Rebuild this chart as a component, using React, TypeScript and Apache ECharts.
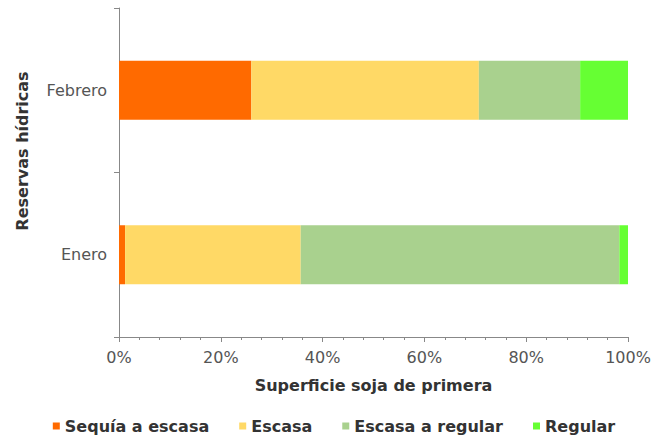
import React, { useEffect, useRef } from "react";
import * as echarts from "echarts";

const categories = ["Enero", "Febrero"];
const seriesNames = ["Sequía a escasa", "Escasa", "Escasa a regular", "Regular"];
const sequiaEscasa = [1.2, 26.0];
const escasa = [34.5, 44.7];
const escasaRegular = [62.6, 19.9];
const regular = [1.7, 9.4];
const xTicks = [0, 20, 40, 60, 80, 100];
const colors = ["#ff6a00", "#ffd966", "#a9d18e", "#66ff33"];

export default function App() {
  const ref = useRef<HTMLDivElement>(null);
  useEffect(() => {
    document.body.style.margin = "0";
    if (!ref.current) return;
    const chart = echarts.init(ref.current, null, { renderer: "svg" });
    const values = [sequiaEscasa, escasa, escasaRegular, regular];
    chart.setOption({
      animation: false,
      textStyle: { fontFamily: "DejaVu Sans" },
      grid: { left: 119, right: 40, top: 8, bottom: 101, containLabel: false },
      legend: {
        data: seriesNames,
        top: 413,
        left: "center",
        itemWidth: 7,
        itemHeight: 7,
        itemGap: 30,
        icon: "rect",
        textStyle: { fontFamily: "DejaVu Sans", fontWeight: "bold", fontSize: 16, color: "#333" },
      },
      xAxis: {
        type: "value",
        min: xTicks[0],
        max: xTicks[xTicks.length - 1],
        interval: 20,
        name: "Superficie soja de primera",
        nameLocation: "middle",
        nameGap: 40,
        nameTextStyle: { fontFamily: "DejaVu Sans", fontWeight: "bold", fontSize: 16, color: "#333" },
        axisLine: { show: true, lineStyle: { color: "#888", width: 1 } },
        axisTick: { show: true, length: 5, lineStyle: { color: "#888" } },
        minorTick: { show: true, splitNumber: 5, length: 3, lineStyle: { color: "#888" } },
        splitLine: { show: false },
        axisLabel: { formatter: "{value}%", fontSize: 16, color: "#555", margin: 12 },
      },
      yAxis: {
        type: "category",
        data: categories,
        axisLine: { show: true, lineStyle: { color: "#888", width: 1 } },
        axisTick: { show: true, length: 5, lineStyle: { color: "#888" } },
        axisLabel: { fontSize: 16, color: "#555", margin: 12 },
      },
      graphic: [
        {
          type: "text",
          x: 22,
          y: 151,
          rotation: Math.PI / 2,
          style: {
            text: "Reservas hídricas",
            fontFamily: "DejaVu Sans",
            fontWeight: "bold",
            fontSize: 16,
            fill: "#333",
            align: "center",
            verticalAlign: "middle",
          },
        },
      ],
      series: seriesNames.map((name, i) => ({
        name,
        type: "bar",
        stack: "total",
        barWidth: 59,
        itemStyle: { color: colors[i] },
        data: values[i],
      })),
    });
    return () => chart.dispose();
  }, []);
  return <div ref={ref} style={{ width: 668, height: 438 }} />;
}
